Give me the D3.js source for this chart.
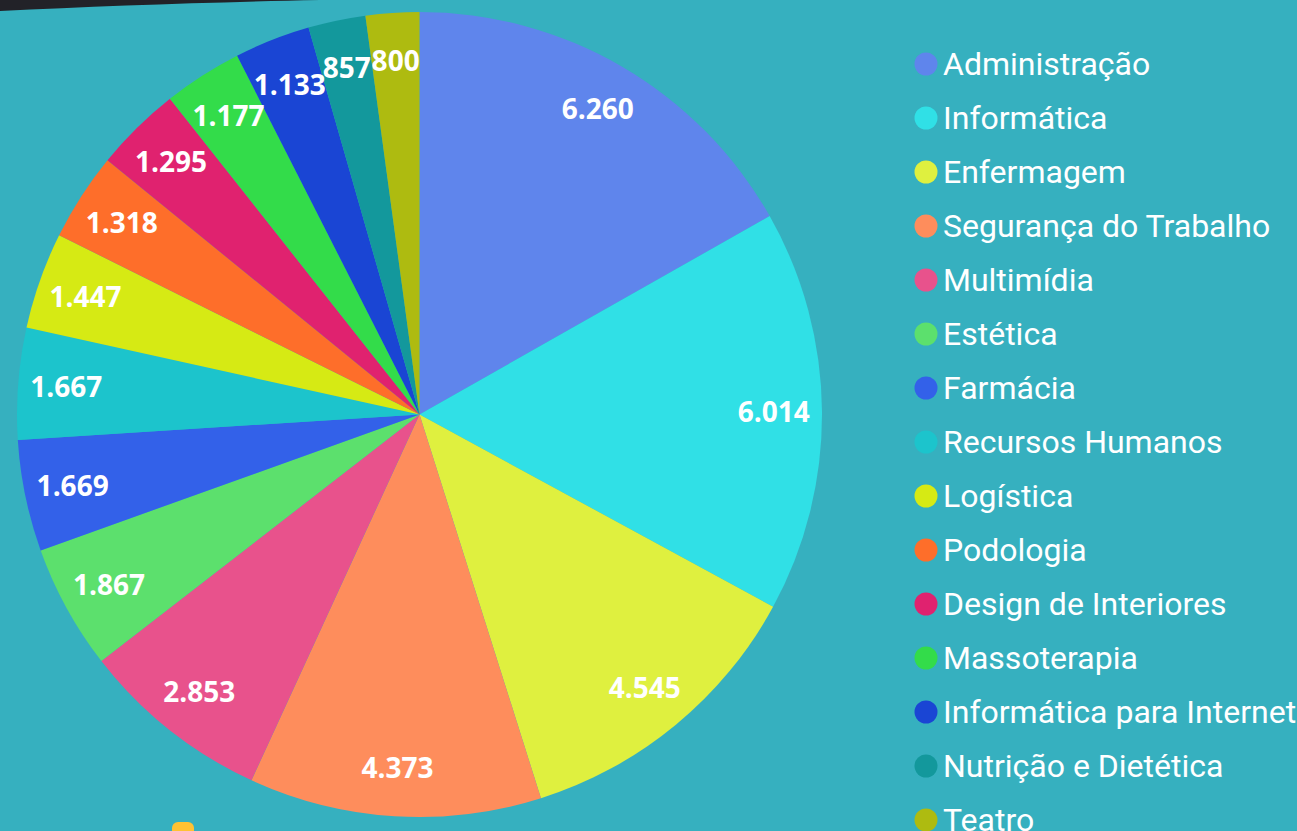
<!DOCTYPE html>
<html>
<head>
<meta charset="utf-8">
<script src="https://cdn.jsdelivr.net/npm/d3@7"></script>
<style>
  html, body { margin: 0; padding: 0; background: #36b0bf; overflow: hidden; }
  svg { display: block; }
</style>
</head>
<body>
<svg id="chart" width="1297" height="831"></svg>
<script>
const categories = ["Administração", "Informática", "Enfermagem", "Segurança do Trabalho", "Multimídia",
    "Estética", "Farmácia", "Recursos Humanos", "Logística", "Podologia", "Design de Interiores",
    "Massoterapia", "Informática para Internet", "Nutrição e Dietética", "Teatro"];
const values = [6260, 6014, 4545, 4373, 2853, 1867, 1669, 1667, 1447, 1318, 1295, 1177, 1133, 857, 800];
const colors = ["#5f85ec", "#30e0e6", "#dff03f", "#fe8d5c", "#e8528c", "#5ce06d", "#3361e9", "#1cc4cc",
    "#d6ea14", "#fe6e2a", "#e0226f", "#33dc4a", "#1a45d4", "#13989c", "#aebb10"];

const W = 1297, H = 831;
const cx = 419.5, cy = 414.5, R = 402.5;

const svg = d3.select("#chart");

// background + decorations
svg.append("rect").attr("width", W).attr("height", H).attr("fill", "#36b0bf");
svg.append("path")
    .attr("d", "M0,0 L320,0 C220,2 100,6 0,11 Z")
    .attr("fill", "#222228");
svg.append("rect")
    .attr("x", 172).attr("y", 822).attr("width", 22).attr("height", 16).attr("rx", 6)
    .attr("fill", "#ffc233");

const fmt = d3.formatLocale({ decimal: ",", thousands: ".", grouping: [3], currency: ["R$", ""] }).format(",d");

const color = d3.scaleOrdinal().domain(categories).range(colors);

const pie = d3.pie().sort(null).value((d, i) => values[i]);
const arcs = pie(categories);

const arc = d3.arc().innerRadius(0).outerRadius(R);
const labelArc = d3.arc().innerRadius(R * 0.88).outerRadius(R * 0.88);

const g = svg.append("g").attr("transform", `translate(${cx},${cy})`);

g.selectAll("path.slice")
    .data(arcs)
    .enter()
    .append("path")
    .attr("class", "slice")
    .attr("d", arc)
    .attr("fill", (d) => color(d.data));

g.selectAll("text.val")
    .data(arcs)
    .enter()
    .append("text")
    .attr("class", "val")
    .attr("transform", (d) => `translate(${labelArc.centroid(d)})`)
    .attr("text-anchor", "middle")
    .attr("dy", "0.36em")
    .attr("fill", "#fff")
    .style("font-family", "'Open Sans', sans-serif")
    .style("font-weight", 700)
    .style("font-size", "28px")
    .text((d, i) => fmt(values[i]));

// legend
const legend = svg.append("g").attr("transform", "translate(926,64)");
const rows = legend.selectAll("g.item")
    .data(categories)
    .enter()
    .append("g")
    .attr("class", "item")
    .attr("transform", (d, i) => `translate(0,${i * 54})`);

rows.append("circle").attr("r", 11.5).attr("fill", (d) => color(d));
rows.append("text")
    .attr("x", 17)
    .attr("dy", "0.35em")
    .attr("fill", "#fff")
    .style("font-family", "Roboto, sans-serif")
    .style("font-size", "32px")
    .text((d) => d);
</script>
</body>
</html>
